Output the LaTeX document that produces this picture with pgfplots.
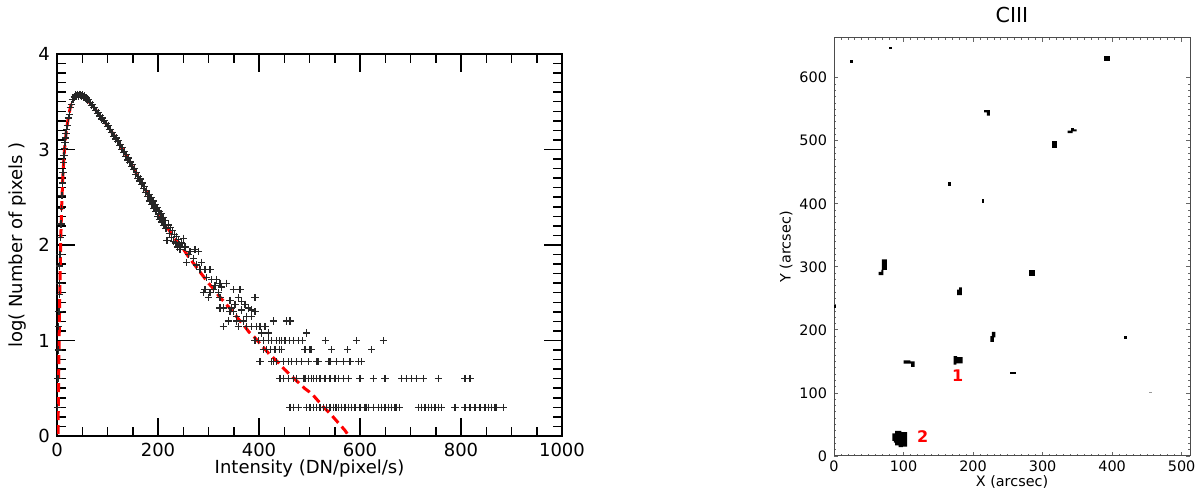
\documentclass[border=0pt]{standalone}
\usepackage{fontspec}
\setmainfont{DejaVu Sans}
\usepackage{pgfplots}
\pgfplotsset{compat=1.18}
\usepackage{pgfplotstable}

\pgfplotstableread{
x y
1 0.30
2 0.60
3 0.90
3.5 1.15
4 1.30
4.5 1.48
5 1.60
5.5 1.78
6 1.90
7 2.08
8 2.22
9 2.38
10 2.52
11 2.65
12 2.76
13 2.86
14 2.94
15 3.01
16 3.07
17 3.12
18 3.17
19 3.21
20 3.25
22 3.33
24 3.37
26 3.44
28 3.47
30 3.52
32 3.52
34 3.55
36 3.57
38 3.56
40 3.58
42 3.56
44 3.58
46 3.57
48 3.56
50 3.57
52 3.55
54 3.56
56 3.53
58 3.54
60 3.51
62 3.52
64 3.49
66 3.49
68 3.46
70 3.47
72 3.44
74 3.44
76 3.41
78 3.41
80 3.38
82 3.39
84 3.35
86 3.36
88 3.32
90 3.33
92 3.30
94 3.30
96 3.27
98 3.27
100 3.24
102 3.25
104 3.21
106 3.21
108 3.18
110 3.18
112 3.14
114 3.15
116 3.11
118 3.12
120 3.08
122 3.09
124 3.04
126 3.05
128 3.00
130 3.02
132 2.97
134 2.98
136 2.93
138 2.95
140 2.89
142 2.91
144 2.86
146 2.87
148 2.82
150 2.84
152 2.79
154 2.80
156 2.74
158 2.76
160 2.70
162 2.72
164 2.67
166 2.69
168 2.63
170 2.65
172 2.59
174 2.61
176 2.55
178 2.57
180 2.51
182 2.53
184 2.46
186 2.50
188 2.42
190 2.46
192 2.38
194 2.42
196 2.35
198 2.39
200 2.30
202 2.35
204 2.27
206 2.33
208 2.24
210 2.29
212 2.20
214 2.26
216 2.17
218 2.05
220 2.21
222 2.12
224 2.18
226 2.08
228 2.15
230 2.04
232 2.11
234 2.02
236 2.09
238 1.98
240 2.06
242 2.00
250.2 2.07
246.9 2.02
253.5 1.98
243.6 1.95
263.4 1.93
273.3 1.95
279.9 1.93
260.1 1.90
270.0 1.86
256.8 1.82
286.5 1.82
276.6 1.79
283.2 1.74
293.1 1.74
303.0 1.74
296.4 1.66
306.3 1.64
316.2 1.64
322.8 1.60
336.0 1.60
312.9 1.58
326.1 1.56
293.1 1.53
309.6 1.53
349.2 1.53
362.4 1.53
303.0 1.50
319.5 1.50
289.8 1.50
299.7 1.45
322.8 1.45
359.1 1.45
392.1 1.45
342.6 1.42
365.7 1.41
352.5 1.38
372.3 1.38
329.4 1.34
345.9 1.34
378.9 1.34
385.5 1.32
322.8 1.34
365.7 1.32
392.1 1.30
342.6 1.30
355.8 1.255
375.6 1.255
385.5 1.255
349.2 1.30
339.3 1.204
355.8 1.204
369.0 1.204
428.4 1.204
454.8 1.204
461.4 1.204
329.4 1.146
359.1 1.146
375.6 1.146
385.5 1.146
395.4 1.146
402.0 1.146
411.9 1.146
405.3 1.079
418.5 1.079
494.4 1.079
392 1.0
398.6 1.0
408.5 1.0
418.4 1.0
425 1.0
435 1.0
440 1.0
445 1.0
451.5 1.0
460 1.0
469 1.0
478 1.0
486.5 1.0
531 1.0
593.5 1.0
646 1.0
408.5 0.903
415 0.903
423 0.903
431.7 0.903
440 0.903
445 0.903
491 0.903
499.6 0.903
503 0.903
544 0.903
575 0.903
623 0.903
402 0.778
425 0.778
428 0.778
435 0.778
448 0.778
458 0.778
465 0.778
475 0.778
484.5 0.778
497.6 0.778
514 0.778
517 0.778
537 0.778
540.6 0.778
554 0.778
567 0.778
580 0.778
596.6 0.778
603 0.778
441.6 0.602
448 0.602
458 0.602
468 0.602
474.6 0.602
487.7 0.602
491 0.602
497.6 0.602
504 0.602
507.5 0.602
514 0.602
520.8 0.602
530.7 0.602
540.6 0.602
550.5 0.602
557 0.602
567 0.602
577 0.602
600 0.602
626.3 0.602
649.5 0.602
682.6 0.602
692.5 0.602
702.4 0.602
712 0.602
725.3 0.602
755 0.602
808 0.602
818 0.602
461.4 0.301
468 0.301
478 0.301
494 0.301
501 0.301
507.6 0.301
514 0.301
520.8 0.301
527.4 0.301
534 0.301
540.6 0.301
547 0.301
552.5 0.301
557 0.301
563.7 0.301
570.3 0.301
576.9 0.301
583.5 0.301
590 0.301
600 0.301
610 0.301
613 0.301
616.5 0.301
626.4 0.301
636.3 0.301
643 0.301
649.5 0.301
656 0.301
662.7 0.301
669.3 0.301
672.6 0.301
679 0.301
715.5 0.301
722 0.301
728.7 0.301
735.3 0.301
742 0.301
748.5 0.301
755 0.301
761.7 0.301
788 0.301
808 0.301
817.8 0.301
827.7 0.301
837.6 0.301
847.5 0.301
854 0.301
860.7 0.301
867.3 0.301
870.7 0.301
883.8 0.301
}\histdata

\pgfplotstableread{
x y
2 0.02
3 0.50
4 0.90
5 1.30
6 1.65
7 1.95
8 2.17
9 2.36
10 2.52
12 2.76
14 2.94
16 3.07
18 3.17
20 3.25
22 3.32
24 3.38
26 3.43
28 3.47
30 3.50
33 3.53
36 3.555
40 3.57
45 3.575
50 3.565
55 3.545
60 3.52
70 3.46
80 3.39
90 3.32
100 3.25
110 3.17
120 3.09
130 3.00
140 2.91
150 2.82
160 2.72
170 2.63
180 2.53
190 2.43
200 2.34
210 2.26
220 2.17
230 2.09
240 2.02
250 1.96
260 1.88
270 1.81
280 1.74
290 1.67
300 1.60
310 1.54
320 1.47
330 1.41
340 1.35
350 1.29
360 1.22
370 1.16
380 1.09
390 1.04
400 0.98
410 0.92
420 0.86
430 0.81
440 0.76
450 0.70
460 0.65
470 0.60
480 0.55
490 0.50
500 0.46
510 0.41
520 0.35
530 0.29
540 0.24
550 0.18
560 0.12
570 0.06
578 0.00
}\fitdata

\begin{document}
\begin{tikzpicture}
\path[use as bounding box] (0,0) rectangle (600pt,245pt);
\begin{axis}[
  at={(28.5pt,27pt)}, anchor=south west, scale only axis,
  width=252.5pt, height=191pt,
  xmin=0, xmax=1000, ymin=0, ymax=4,
  xtick={0,200,400,600,800,1000}, ytick={0,1,2,3,4},
  minor x tick num=3, minor y tick num=9,
  tick align=inside,
  major tick length=9pt, minor tick length=4.7pt,
  every tick/.append style={black, line width=0.75pt},
  axis line style={line width=0.75pt, black},
  tick label style={font=\fontsize{9}{10}\selectfont},
  label style={font=\fontsize{9}{10}\selectfont},
  /pgf/number format/assume math mode=true,
  /pgf/number format/1000 sep={},
  xlabel={Intensity (DN/pixel/s)},
  ylabel={log( Number of pixels )},
  xlabel style={at={(axis description cs:0.5,-0.0864)}, anchor=center},
  ylabel style={at={(axis description cs:-0.0772,0.5)}, anchor=center},
]
\addplot[only marks, mark=+, mark size=1.8pt, black!85, mark options={line width=0.6pt}] table {\histdata};
\addplot[red, line width=1.5pt, dash pattern=on 4.5pt off 2.5pt] table {\fitdata};
\end{axis}

\begin{axis}[
  at={(417pt,17pt)}, anchor=south west, scale only axis,
  width=178pt, height=209pt,
  xmin=0, xmax=512, ymin=0, ymax=663,
  xtick={0,100,200,300,400,500}, ytick={0,100,200,300,400,500,600},
  minor x tick num=9, minor y tick num=9,
  tick align=inside, major tick length=2.2pt, minor tick length=1.1pt,
  every tick/.append style={black!60, line width=0.4pt},
  axis line style={black!70, line width=0.5pt},
  tick label style={font=\fontsize{7.2}{8}\selectfont},
  xticklabel style={yshift=1.2pt},
  label style={font=\fontsize{7.2}{8}\selectfont},
  /pgf/number format/assume math mode=true,
  /pgf/number format/1000 sep={},
  every axis title shift=0pt,
  title={CIII},
  title style={font=\fontsize{10.3}{12}\selectfont, at={(axis description cs:0.5,1.0543)}, anchor=center, yshift=0pt},
  xlabel={X (arcsec)}, ylabel={Y (arcsec)},
  xlabel style={at={(axis description cs:0.5,-0.063)}, anchor=center, inner sep=0pt},
  ylabel style={at={(axis description cs:-0.1348,0.5)}, anchor=center},
]
\addplot[fill=black, draw=none] coordinates {(23,623) (28,623) (28,628.5) (23,628.5)} -- cycle;
\addplot[fill=black, draw=none] coordinates {(79.5,646) (84,646) (84,648.5) (79.5,648.5)} -- cycle;
\addplot[fill=black, draw=none] coordinates {(389,626) (397,626) (397,634) (389,634)} -- cycle;
\addplot[fill=black, draw=none] coordinates {(216,545) (216,548.5) (224,548.5) (224,540) (220,540) (220,545)} -- cycle;
\addplot[fill=black, draw=none] coordinates {(336,512) (336,516) (341,516) (341,520) (345,520) (345,518) (349,518) (349,515) (343,515) (343,512)} -- cycle;
\addplot[fill=black, draw=none] coordinates {(313,489) (321,489) (321,500) (313,500)} -- cycle;
\addplot[fill=black, draw=none] coordinates {(164,428) (168.5,428) (168.5,434.5) (164,434.5)} -- cycle;
\addplot[fill=black, draw=none] coordinates {(212.5,400.5) (216,400.5) (216,407) (212.5,407)} -- cycle;
\addplot[fill=black, draw=none] coordinates {(64,287) (64,292) (68,292) (68,295) (69,295) (69,312) (76,312) (76,295) (71,295) (71,287)} -- cycle;
\addplot[fill=black, draw=none] coordinates {(280,285) (288.5,285) (288.5,295) (280,295)} -- cycle;
\addplot[fill=black, draw=none] coordinates {(177,255) (177,264) (180,264) (180,267.5) (184,267.5) (184,255)} -- cycle;
\addplot[fill=black, draw=none] coordinates {(0,235) (3,235) (3,239) (0,239)} -- cycle;
\addplot[fill=black, draw=none] coordinates {(225,181) (225,190) (227,190) (227,197) (232,197) (232,188) (230,188) (230,181)} -- cycle;
\addplot[fill=black, draw=none] coordinates {(417,186) (421,186) (421,190) (417,190)} -- cycle;
\addplot[fill=black, draw=none] coordinates {(100,146.5) (100,151.5) (110,151.5) (110,150) (116,150) (116,141.5) (111,141.5) (111,146.5)} -- cycle;
\addplot[fill=black, draw=none] coordinates {(172,145) (172,158.5) (177,158.5) (177,157) (185,157) (185,147) (176,147) (176,145)} -- cycle;
\addplot[fill=black, draw=none] coordinates {(253,130) (262,130) (262,132.8) (253,132.8)} -- cycle;
\addplot[fill=black!40, draw=none] coordinates {(453,99.5) (457,99.5) (457,101) (453,101)} -- cycle;
\addplot[fill=black, draw=none] coordinates {(84,24) (84,36) (88,36) (88,40) (97,40) (97,38) (105,38) (105,15) (99,15) (99,14) (93,14) (93,17) (88,17) (88,21) (86,21) (86,24)} -- cycle;
\node[red, font=\fontsize{8}{9}\selectfont\bfseries] at (axis cs:178,127) {1};
\node[red, font=\fontsize{8}{9}\selectfont\bfseries] at (axis cs:127.5,30.6) {2};
\end{axis}
\end{tikzpicture}
\end{document}
